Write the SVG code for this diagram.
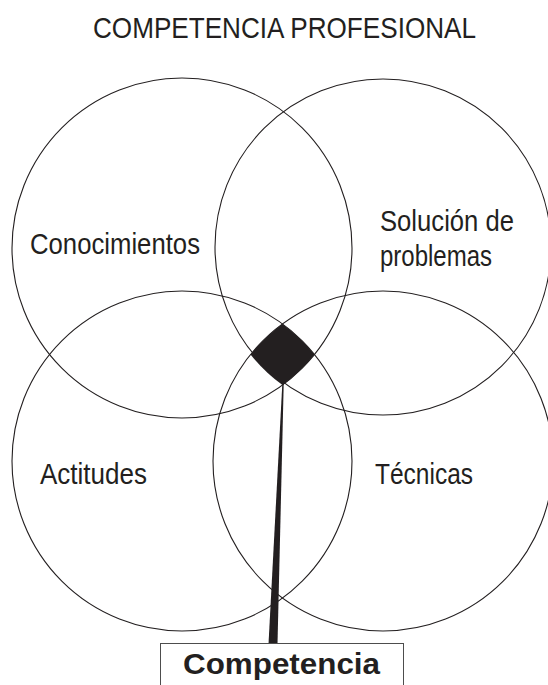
<svg xmlns="http://www.w3.org/2000/svg" width="548" height="685" viewBox="0 0 548 685">
<style>
.c{fill:none;stroke:#231f20;stroke-width:1.1}
.t{font-family:"Liberation Sans",Arial,sans-serif;font-size:29px;fill:#231f20}
.b{font-family:"Liberation Sans",Arial,sans-serif;font-size:29px;font-weight:bold;fill:#231f20}
</style>
<rect width="548" height="685" fill="#fff"/>
<g id="title"><text class="t" x="93" y="38" font-size="33" textLength="383" lengthAdjust="spacingAndGlyphs">COMPETENCIA PROFESIONAL</text></g>
<g id="conocimientos">
<circle class="c" cx="182" cy="248" r="170"/>
<text class="t" x="30" y="254" textLength="170" lengthAdjust="spacingAndGlyphs">Conocimientos</text>
</g>
<g id="solucion">
<circle class="c" cx="383" cy="247" r="168"/>
<text class="t" x="380" y="231" textLength="134" lengthAdjust="spacingAndGlyphs">Solución de</text>
<text class="t" x="380" y="266" textLength="112" lengthAdjust="spacingAndGlyphs">problemas</text>
</g>
<g id="actitudes">
<circle class="c" cx="182" cy="461" r="170"/>
<text class="t" x="40" y="484" textLength="107" lengthAdjust="spacingAndGlyphs">Actitudes</text>
</g>
<g id="tecnicas">
<circle class="c" cx="383" cy="461" r="170"/>
<text class="t" x="375" y="484" textLength="98" lengthAdjust="spacingAndGlyphs">Técnicas</text>
</g>
<g id="interseccion">
<path d="M282.5,323.9 A170,170 0 0 1 314.5,354.5 A170,170 0 0 1 282.5,385.1 A170,170 0 0 1 250.5,354.5 A170,170 0 0 1 282.5,323.9 Z" fill="#231f20"/>
</g>
<g id="connectors">
<polygon points="282.3,384 283.7,384 277.5,644 268.5,644" fill="#231f20"/>
</g>
<g id="competencia">
<rect x="160.5" y="643.5" width="243" height="60" fill="#fff" stroke="#4d4d4d" stroke-width="1"/>
<text class="b" x="183" y="674" textLength="197" lengthAdjust="spacingAndGlyphs">Competencia</text>
</g>
</svg>
